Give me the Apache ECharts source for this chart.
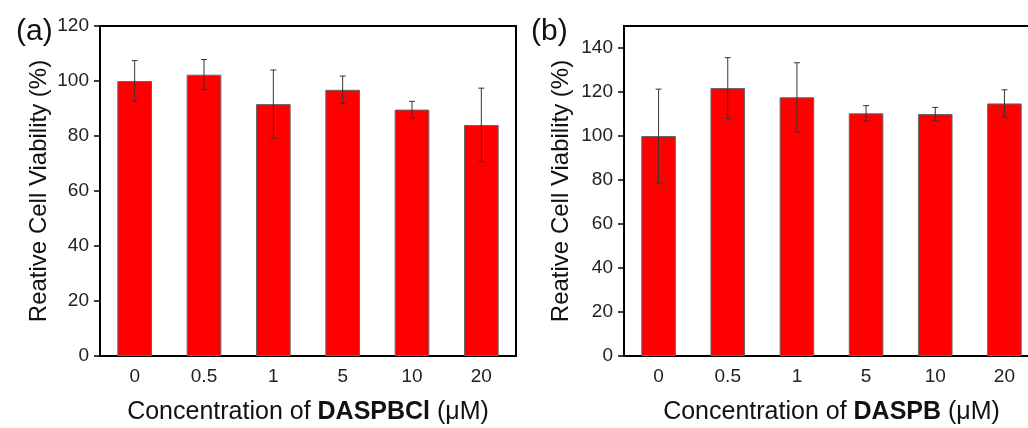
<!DOCTYPE html>
<html><head><meta charset="utf-8">
<script src="https://cdn.jsdelivr.net/npm/echarts@6/dist/echarts.min.js"></script>
<style>html,body{margin:0;padding:0;background:#fff;overflow:hidden}#c{width:1028px;height:428px}</style>
</head><body><div id="c"></div>
<script>
const categories = ['0', '0.5', '1', '5', '10', '20'];
const valuesA = [100, 102.3, 91.6, 96.8, 89.6, 84.0];
const errorsA = [7.4, 5.5, 12.4, 5.0, 3.0, 13.4];
const valuesB = [100, 121.8, 117.6, 110.3, 110.0, 114.8];
const errorsB = [21.3, 13.8, 15.7, 3.5, 3.0, 6.2];
const ticksA = [0, 20, 40, 60, 80, 100, 120];
const ticksB = [0, 20, 40, 60, 80, 100, 120, 140];

const FONT = '"Liberation Sans", Arial, sans-serif';
const chart = echarts.init(document.getElementById('c'), null, {renderer: 'canvas'});

function errData(vals, errs) {
  return vals.map((v, i) => [i, v - errs[i], v + errs[i]]);
}
function errRender(params, api) {
  const x = api.value(0);
  const lo = api.coord([x, api.value(1)]);
  const hi = api.coord([x, api.value(2)]);
  const cap = 3;
  const st = {stroke: '#333', lineWidth: 1};
  return {type: 'group', children: [
    {type: 'line', shape: {x1: lo[0], y1: lo[1], x2: hi[0], y2: hi[1]}, style: st},
    {type: 'line', shape: {x1: lo[0] - cap, y1: lo[1], x2: lo[0] + cap, y2: lo[1]}, style: st},
    {type: 'line', shape: {x1: hi[0] - cap, y1: hi[1], x2: hi[0] + cap, y2: hi[1]}, style: st}
  ]};
}
function xAxis(idx, name) {
  return {
    type: 'category', gridIndex: idx, data: categories,
    name: name, nameLocation: 'middle', nameGap: 44,
    nameTextStyle: {fontFamily: FONT, fontSize: 25, color: '#111', rich: {b: {fontFamily: FONT, fontSize: 25, fontWeight: 'bold', color: '#111'}}},
    axisLine: {lineStyle: {color: '#000', width: 2}},
    axisTick: {alignWithLabel: true, length: 6, lineStyle: {color: '#000', width: 1.5}},
    axisLabel: {fontFamily: FONT, fontSize: 19, color: '#222', margin: 11}
  };
}
function yAxis(idx, max, ticks, gap) {
  return {
    type: 'value', gridIndex: idx, min: 0, max: max, interval: 20,
    name: 'Reative Cell Viability (%)', nameLocation: 'middle', nameGap: gap,
    nameTextStyle: {fontFamily: FONT, fontSize: 24, color: '#111'},
    axisLine: {show: true, lineStyle: {color: '#000', width: 2}},
    axisTick: {show: true, length: 6, lineStyle: {color: '#000', width: 1.5}, customValues: ticks},
    axisLabel: {fontFamily: FONT, fontSize: 19, color: '#222', margin: 11, customValues: ticks},
    splitLine: {show: false}
  };
}
const barStyle = {color: '#ff0000', borderColor: '#666', borderWidth: 1};

chart.setOption({
  animation: false,
  title: [
    {text: '(a)', left: 11, top: 12, textStyle: {fontFamily: FONT, fontSize: 30, fontWeight: 'normal', color: '#111'}},
    {text: '(b)', left: 526, top: 12, textStyle: {fontFamily: FONT, fontSize: 30, fontWeight: 'normal', color: '#111'}}
  ],
  grid: [
    {left: 100, top: 26, width: 416, height: 330, outerBoundsMode: 'none', containLabel: false, show: true, borderColor: '#000', borderWidth: 2, backgroundColor: 'transparent'},
    {left: 624, top: 26, width: 415, height: 330, outerBoundsMode: 'none', containLabel: false, show: true, borderColor: '#000', borderWidth: 2, backgroundColor: 'transparent'}
  ],
  xAxis: [xAxis(0, 'Concentration of {b|DASPBCl} (μM)'), xAxis(1, 'Concentration of {b|DASPB} (μM)')],
  yAxis: [yAxis(0, 120, ticksA, 49), yAxis(1, 150, ticksB, 51)],
  series: [
    {type: 'bar', xAxisIndex: 0, yAxisIndex: 0, data: valuesA, barWidth: '50%', itemStyle: barStyle},
    {type: 'custom', xAxisIndex: 0, yAxisIndex: 0, data: errData(valuesA, errorsA), renderItem: errRender, z: 5},
    {type: 'bar', xAxisIndex: 1, yAxisIndex: 1, data: valuesB, barWidth: '50%', itemStyle: barStyle},
    {type: 'custom', xAxisIndex: 1, yAxisIndex: 1, data: errData(valuesB, errorsB), renderItem: errRender, z: 5}
  ]
});
</script></body></html>
